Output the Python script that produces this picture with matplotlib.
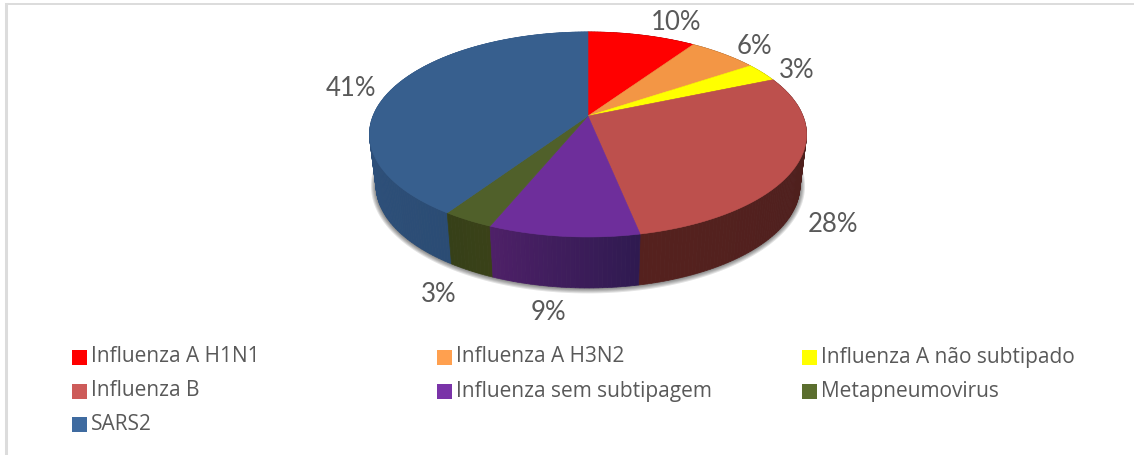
import numpy as np
import matplotlib
matplotlib.use("Agg")
import matplotlib.pyplot as plt
from matplotlib.patches import Rectangle

plt.rcParams["font.family"] = ["Lato", "DejaVu Sans"]

categories = ["Influenza A H1N1", "Influenza A H3N2", "Influenza A não subtipado",
              "Influenza B", "Influenza sem subtipagem", "Metapneumovirus", "SARS2"]
shares = [9.5, 6.1, 3.0, 28.2, 9.4, 3.2, 40.6]
top_colors = ["#ff0000", "#f39645", "#ffff00", "#bd504d", "#6e2e9b", "#50602a", "#375f8e"]
legend_colors = ["#ff0000", "#ffa04f", "#ffff00", "#cd5b59", "#7a33a8", "#5b6e2e", "#3f6ba0"]
# wall colour at the start and end of each slice, going clockwise
wall_start = ["#800000", "#7a4a20", "#808000", "#4a1f1d", "#2f1a50", "#3a4118", "#2b4c74"]
wall_end = ["#800000", "#7a4a20", "#808000", "#55211e", "#4e2068", "#364018", "#33598a"]

label_pos = [(676, 23), (754, 47), (797, 70), (833, 224), (548, 313), (439, 294), (351, 88)]

# pie geometry in pixels, with a little perspective
CX, CY = 588, 116
A, B, P = 215, 99.2, 0.18
DEPTH, SHRINK = 51, 0.97


def rim(theta, bottom=False):
    d = 1 + P * np.cos(theta)
    x = A * np.sin(theta) / d
    y = CY - B * np.cos(theta) / d
    if bottom:
        return CX + SHRINK * x, y + DEPTH
    return CX + x, y


fig = plt.figure(figsize=(11.34, 4.55), dpi=100)
ax = fig.add_axes([0, 0, 1, 1])
ax.set_xlim(0, 1134)
ax.set_ylim(455, 0)
ax.axis("off")

# chart frame, only top and left show
ax.plot([6, 1134], [4, 4], color="#dcdcdc", lw=1.4, zorder=1)
ax.plot([6, 6], [4, 455], color="#dcdcdc", lw=2.2, zorder=1)

# soft shadow round the base
full = np.linspace(0, 2 * np.pi, 361)
bx, by = rim(full, bottom=True)
mx, my = bx.mean(), by.mean()
for grow in [5, 4, 3, 2, 1]:
    sx = mx + (bx - mx) * (1 + grow / 212)
    sy = my + (by - my) * (1 + grow / 103)
    ax.fill(sx, sy, color="#000000", alpha=0.11, lw=0, zorder=2)

edges = np.radians(np.cumsum([0] + shares) * 3.6)

# side wall, thin strips from back to front
strips = []
for i in range(len(shares)):
    n = max(int(np.degrees(edges[i + 1] - edges[i])), 2)
    ts = np.linspace(edges[i], edges[i + 1], n + 1)
    c0 = np.array(matplotlib.colors.to_rgb(wall_start[i]))
    c1 = np.array(matplotlib.colors.to_rgb(wall_end[i]))
    for j in range(n):
        strips.append((ts[j], ts[j + 1], c0 + (c1 - c0) * (j + 0.5) / n))
strips.sort(key=lambda s: -np.cos((s[0] + s[1]) / 2))
for t0, t1, col in strips:
    x0, y0 = rim(t0)
    x1, y1 = rim(t1)
    x2, y2 = rim(t1, bottom=True)
    x3, y3 = rim(t0, bottom=True)
    ax.fill([x0, x1, x2, x3], [y0, y1, y2, y3], color=col, lw=0.5, zorder=3)

# top face
for i in range(len(shares)):
    ts = np.linspace(edges[i], edges[i + 1], 200)
    x, y = rim(ts)
    ax.fill(np.r_[CX, x], np.r_[CY, y], facecolor=top_colors[i], edgecolor=top_colors[i],
            lw=0.4, zorder=4)

for v, (lx, ly) in zip(shares, label_pos):
    ax.text(lx, ly, f"{v:.0f}%", color="#595959", fontsize=18.5, ha="center", va="center", zorder=5)

# legend, three columns
leg_x = [72, 437, 802]
leg_y = [357, 391, 424]
for i, name in enumerate(categories):
    x = leg_x[i % 3]
    y = leg_y[i // 3]
    ax.add_patch(Rectangle((x, y - 7), 14.5, 14.5, facecolor=legend_colors[i], edgecolor="none", zorder=5))
    ax.text(x + 19, y, name, color="#595959", fontsize=15, family=["Open Sans", "DejaVu Sans"],
            ha="left", va="center", zorder=5)

fig.savefig("out.png", dpi=100)
